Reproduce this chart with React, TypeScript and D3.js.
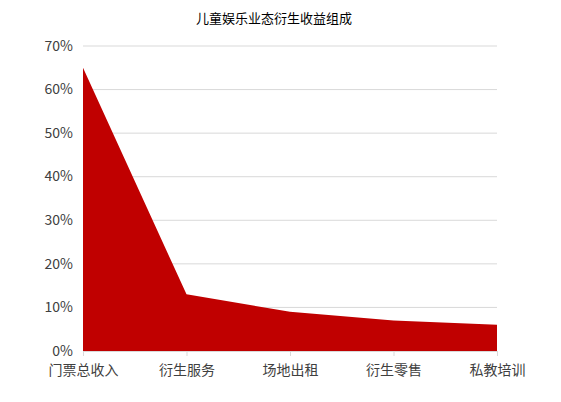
import { useEffect, useRef } from 'react'
import * as d3 from 'd3'

const categories = ['门票总收入', '衍生服务', '场地出租', '衍生零售', '私教培训']
const shares = [0.65, 0.13, 0.09, 0.07, 0.06]
const yTicks = [0, 0.1, 0.2, 0.3, 0.4, 0.5, 0.6, 0.7]
const title = '儿童娱乐业态衍生收益组成'

export default function App() {
  const svgRef = useRef<SVGSVGElement>(null)

  useEffect(() => {
    if (!svgRef.current) return
    const width = 561
    const height = 402
    const margin = { top: 46, right: 64, bottom: 51, left: 83 }
    const font = '"Noto Sans CJK SC", "Noto Sans", sans-serif'

    const root = d3.select(svgRef.current)
    root.selectAll('*').remove()
    root.attr('width', width).attr('height', height).style('font-family', font)

    const data = categories.map((c, i) => ({ name: c, value: shares[i] }))

    const x = d3.scalePoint<string>()
      .domain(categories)
      .range([margin.left, width - margin.right])

    const y = d3.scaleLinear()
      .domain([0, 0.7])
      .range([height - margin.bottom, margin.top])

    // gridlines
    root.append('g')
      .selectAll('line')
      .data(yTicks.slice(1))
      .join('line')
      .attr('x1', margin.left)
      .attr('x2', width - margin.right)
      .attr('y1', d => y(d))
      .attr('y2', d => y(d))
      .attr('stroke', '#d9d9d9')
      .attr('stroke-width', 1)

    // area
    const area = d3.area<{ name: string; value: number }>()
      .x(d => x(d.name) || 0)
      .y0(y(0))
      .y1(d => y(d.value))

    root.append('path')
      .datum(data)
      .attr('d', area)
      .attr('fill', '#c00000')

    // x axis
    const xAxis = root.append('g')
      .attr('transform', `translate(0,${y(0)})`)
      .call(d3.axisBottom(x).tickSizeInner(5).tickSizeOuter(0).tickPadding(2))
    xAxis.select('.domain').attr('stroke', '#d9d9d9')
    xAxis.selectAll('.tick line').attr('stroke', '#d9d9d9')
    xAxis.selectAll('.tick text')
      .attr('font-size', '14px')
      .attr('fill', '#404040')
      .attr('font-family', font)
      .attr('dy', '1.2em')

    // y axis labels
    const yAxis = root.append('g')
      .attr('transform', `translate(${margin.left},0)`)
      .call(d3.axisLeft(y).tickValues(yTicks).tickFormat(d3.format('.0%')).tickSize(0).tickPadding(10))
    yAxis.select('.domain').remove()
    yAxis.selectAll('.tick text')
      .attr('font-size', '14px')
      .attr('fill', '#404040')
      .attr('font-family', font)
      .attr('dy', '0.3em')

    // title
    root.append('text')
      .attr('x', 274)
      .attr('y', 23)
      .attr('text-anchor', 'middle')
      .attr('font-size', '13px')
      .attr('fill', '#000')
      .text(title)
  }, [])

  return (
    <div style={{ position: 'absolute', left: 0, top: 0 }}>
      <svg ref={svgRef}></svg>
    </div>
  )
}
